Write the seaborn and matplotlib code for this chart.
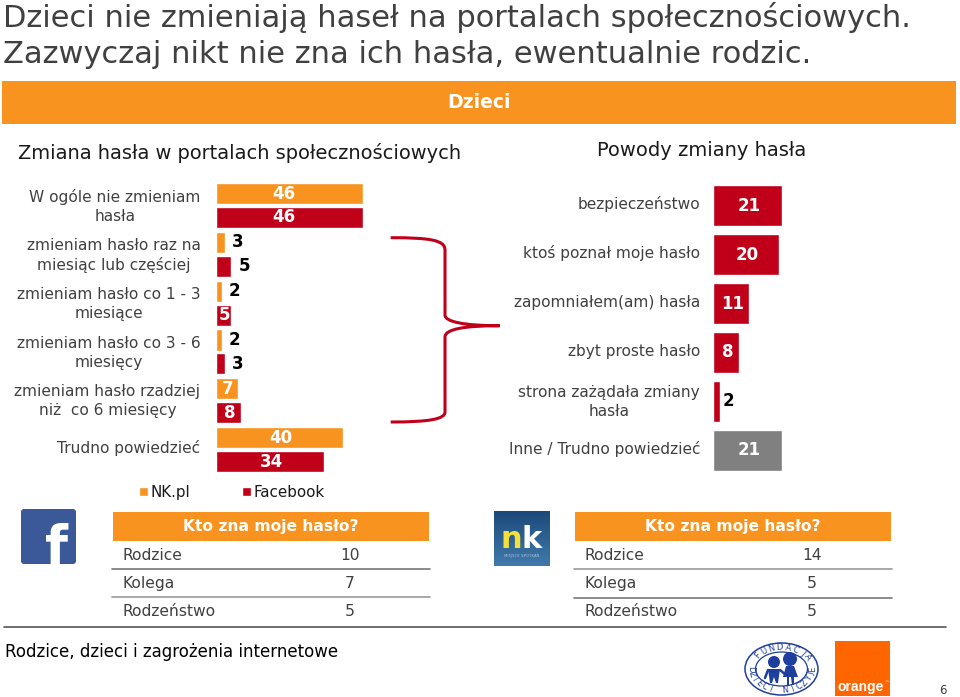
import numpy as np
import pandas as pd
import matplotlib
matplotlib.use('Agg')
import matplotlib.pyplot as plt
import seaborn as sns
from matplotlib.patches import Rectangle, FancyBboxPatch, Ellipse, Circle, Polygon, PathPatch
from matplotlib.path import Path
from matplotlib.transforms import ScaledTranslation

# Data
frequency = ['W ogóle nie zmieniam\nhasła', 'zmieniam hasło raz na\nmiesiąc lub częściej',
             'zmieniam hasło co 1 - 3\nmiesiące', 'zmieniam hasło co 3 - 6\nmiesięcy',
             'zmieniam hasło rzadziej\nniż  co 6 miesięcy', 'Trudno powiedzieć']
nk_values = [46, 3, 2, 2, 7, 40]
fb_values = [46, 5, 5, 3, 8, 34]

reasons = ['bezpieczeństwo', 'ktoś poznał moje hasło', 'zapomniałem(am) hasła',
           'zbyt proste hasło', 'strona zażądała zmiany\nhasła', 'Inne / Trudno powiedzieć']
reason_values = [21, 20, 11, 8, 2, 21]

who_knows = ['Rodzice', 'Kolega', 'Rodzeństwo']
fb_who = [10, 7, 5]
nk_who = [14, 5, 5]

ORANGE = '#F7931E'
RED = '#C00018'
GREY = '#808080'
TEXT = '#404040'
W, H = 960, 697

sns.set_theme(style='white')
plt.rcParams['font.family'] = ['DejaVu Sans']

fig = plt.figure(figsize=(W / 100, H / 100), dpi=100, facecolor='white')


def px_axes(left, top, right, bottom):
    return fig.add_axes([left / W, 1 - bottom / H, (right - left) / W, (bottom - top) / H])


def clean(ax, pad):
    sns.despine(ax=ax, left=True, bottom=True)
    ax.set_xlabel('')
    ax.set_ylabel('')
    ax.set_xticks([])
    ax.tick_params(axis='y', length=0, pad=pad, labelsize=11.1, labelcolor=TEXT)
    ax.set_facecolor('none')
    # labels sit a little higher and looser than matplotlib's default
    lift = ScaledTranslation(0, 2 / 72, fig.dpi_scale_trans)
    for lab in ax.get_yticklabels():
        lab.set_multialignment('center')
        lab.set_linespacing(1.32)
        lab.set_transform(lab.get_transform() + lift)


def put_label(ax, bar, inside, gap=5):
    val = int(bar.get_width())
    y = bar.get_y() + bar.get_height() / 2
    if inside:
        dx = -4 if val == 46 else 1
        ax.annotate(str(val), (val / 2, y), xytext=(dx, 0), textcoords='offset points', color='white',
                    fontsize=12, fontweight='bold', ha='center', va='center', annotation_clip=False)
    else:
        ax.annotate(str(val), (val, y), xytext=(gap, 0), textcoords='offset points', color='black',
                    fontsize=12, fontweight='bold', ha='left', va='center', annotation_clip=False)


# Left chart - how often the password gets changed
freq_df = pd.DataFrame({
    'freq': frequency * 2,
    'value': nk_values + fb_values,
    'portal': ['NK.pl'] * 6 + ['Facebook'] * 6,
})
ax1 = px_axes(215.5, 181.1, 362.5, 474)
sns.barplot(data=freq_df, y='freq', x='value', hue='portal', orient='h', ax=ax1,
            palette=[ORANGE, RED], width=0.98, gap=0.12, saturation=1, legend=True)
ax1.set_xlim(0, 46)
ax1.set_ylim(5.5, -0.5)
clean(ax1, 10.8)
for cont, vals in zip(ax1.containers, [nk_values, fb_values]):
    for i, bar in enumerate(cont):
        forced = cont is ax1.containers[1] and i == 2  # this 5 sits on its bar in the slide
        put_label(ax1, bar, vals[i] >= 7 or forced)
ax1.legend(loc='center left', bbox_to_anchor=(-0.52, -0.062), ncol=2, frameon=False, fontsize=10.9,
           handlelength=0.6, handleheight=0.6, handletextpad=0.15, columnspacing=3.45,
           borderpad=0, borderaxespad=0, labelcolor='#1a1a1a')

# Right chart - reasons for changing it
reason_df = pd.DataFrame({'reason': reasons, 'value': reason_values})
ax2 = px_axes(713, 181.2, 782, 474.8)
sns.barplot(data=reason_df, y='reason', x='value', hue='reason', orient='h', ax=ax2, width=0.83,
            palette=[RED] * 5 + [GREY], saturation=1, legend=False)
ax2.set_xlim(0, 21)
ax2.set_ylim(5.5, -0.5)
clean(ax2, 9.3)
for cont in ax2.containers:
    for bar in cont:
        put_label(ax2, bar, bar.get_width() >= 7, gap=2.5)

# Everything around the charts, in slide pixels
page = fig.add_axes([0, 0, 1, 1], zorder=-1)
page.set_xlim(0, W)
page.set_ylim(H, 0)
page.axis('off')

page.text(3, 27, 'Dzieci nie zmieniają haseł na portalach społecznościowych.', fontsize=21.98,
          color=TEXT, va='baseline')
page.text(3, 63, 'Zazwyczaj nikt nie zna ich hasła, ewentualnie rodzic.', fontsize=21.98,
          color=TEXT, va='baseline')
page.add_patch(Rectangle((2, 81), 954, 43, color=ORANGE, lw=0))
page.text(479, 103, 'Dzieci', color='white', fontsize=13.5, fontweight='bold', ha='center', va='center')
page.text(18, 153, 'Zmiana hasła w portalach społecznościowych', fontsize=13.95, color='#1a1a1a', va='center')
page.text(597, 151, 'Powody zmiany hasła', fontsize=14.05, color='#1a1a1a', va='center')

# bracket between the charts
verts = [(390.7, 237.7), (430, 237.7), (445, 240), (445, 250), (445, 315),
         (445, 322), (465, 325.7), (499.5, 325.7),
         (465, 325.7), (445, 329), (445, 337), (445, 412),
         (445, 419), (430, 422), (390.7, 422)]
codes = [Path.MOVETO, Path.CURVE4, Path.CURVE4, Path.CURVE4, Path.LINETO,
         Path.CURVE4, Path.CURVE4, Path.CURVE4,
         Path.CURVE4, Path.CURVE4, Path.CURVE4, Path.LINETO,
         Path.CURVE4, Path.CURVE4, Path.CURVE4]
page.add_patch(PathPatch(Path(verts, codes), fill=False, edgecolor=RED, lw=2.2))


def who_table(x0, x1, label_x, value_x, values, line_ys):
    page.add_patch(Rectangle((x0, 512), x1 - x0, 28.5, color=ORANGE, lw=0))
    page.text((x0 + x1) / 2, 527, 'Kto zna moje hasło?', color='white', fontsize=11.2,
              fontweight='bold', ha='center', va='center')
    for name, val, y in zip(who_knows, values, [555, 583.5, 612]):
        page.text(label_x, y, name, fontsize=11.2, color=TEXT, va='center')
        page.text(value_x, y, str(val), fontsize=11.2, color=TEXT, ha='center', va='center')
    for y, col in line_ys:
        page.plot([x0 - 1, x1 + 1], [y, y], color=col, lw=1.2)


who_table(113, 429, 123, 350, fb_who, [(568.5, '#777777'), (597, '#999999')])
who_table(574.5, 891, 585, 812, nk_who, [(569, '#999999'), (597.5, '#777777')])

page.plot([4, 946], [626.5, 626.5], color='#555555', lw=1.2)
page.text(5, 652, 'Rodzice, dzieci i zagrożenia internetowe', fontsize=11.95, color='black', va='center')
page.text(943, 690, '6', fontsize=8.5, color=TEXT, ha='center', va='center')

# facebook logo
page.add_patch(FancyBboxPatch((23, 511), 51, 51, boxstyle='round,pad=2,rounding_size=3',
                              fc='#3B5898', ec='none'))
page.text(57, 564, 'f', color='white', fontsize=38, fontweight='bold', ha='center', va='baseline',
          clip_on=True, clip_path=Rectangle((21, 509), 55, 55, transform=page.transData))

# nk logo
shade = np.linspace(0, 1, 50).reshape(-1, 1)
page.imshow(shade, extent=(494, 550, 566, 511), cmap=sns.blend_palette(['#1C4A7A', '#4079AC'], as_cmap=True),
            aspect='auto', zorder=1)
page.set_xlim(0, W)
page.set_ylim(H, 0)
page.text(511, 548, 'n', color='#F5E03A', fontsize=22, fontweight='bold', ha='center', va='baseline', zorder=2)
page.text(532, 548, 'k', color='white', fontsize=22, fontweight='bold', ha='center', va='baseline', zorder=2)
page.text(522, 556, 'MIEJSCE SPOTKAŃ', color='#A9C2DA', fontsize=2.8, ha='center', va='center', zorder=2)

# fundacja logo
BLUE = '#1F3F9E'
cx, cy = 781.5, 669
page.add_patch(Ellipse((cx, cy), 73, 52, fc='none', ec=BLUE, lw=1.1))
page.add_patch(Ellipse((cx, cy), 52, 34, fc='none', ec=BLUE, lw=0.9))
for ch, ang in zip('FUNDACJA', np.linspace(140, 32, 8)):
    t = np.radians(ang)
    page.text(cx + 31 * np.cos(t), cy - 21.5 * np.sin(t), ch, color=BLUE, fontsize=6,
              rotation=ang - 90, ha='center', va='center')
for ch, ang in zip('DZIECI NICZYJE', np.linspace(180, 360, 14)):
    t = np.radians(ang)
    page.text(cx + 31 * np.cos(t), cy - 21.5 * np.sin(t), ch, color=BLUE, fontsize=6,
              rotation=ang + 90, ha='center', va='center')
page.add_patch(Circle((774, 662), 6, color=BLUE, lw=0))
page.add_patch(Circle((790, 659), 7, color=BLUE, lw=0))
page.add_patch(Polygon([(768, 669), (780, 669), (779, 676), (778, 683), (776, 683), (774, 677),
                        (772, 683), (770, 683), (769, 676)], color=BLUE, lw=0))
page.add_patch(Polygon([(786, 666), (794, 666), (798, 677), (794, 677), (794, 685), (792, 685),
                        (791, 677), (789, 677), (789, 685), (787, 685), (787, 677), (783, 677)],
                       color=BLUE, lw=0))
page.plot([768, 765], [670, 678], color=BLUE, lw=1.8)
page.plot([780, 786], [670, 675], color=BLUE, lw=1.8)

# orange logo
page.add_patch(Rectangle((835, 641), 55, 54.5, color='#FF6600', lw=0))
page.text(837, 687, 'orange', color='white', fontsize=10, fontweight='bold', va='center',
          family=['Liberation Sans'])
page.text(887, 682, '™', color='white', fontsize=3.5, ha='center', va='center')

fig.savefig('out.png', dpi=100, facecolor='white')
